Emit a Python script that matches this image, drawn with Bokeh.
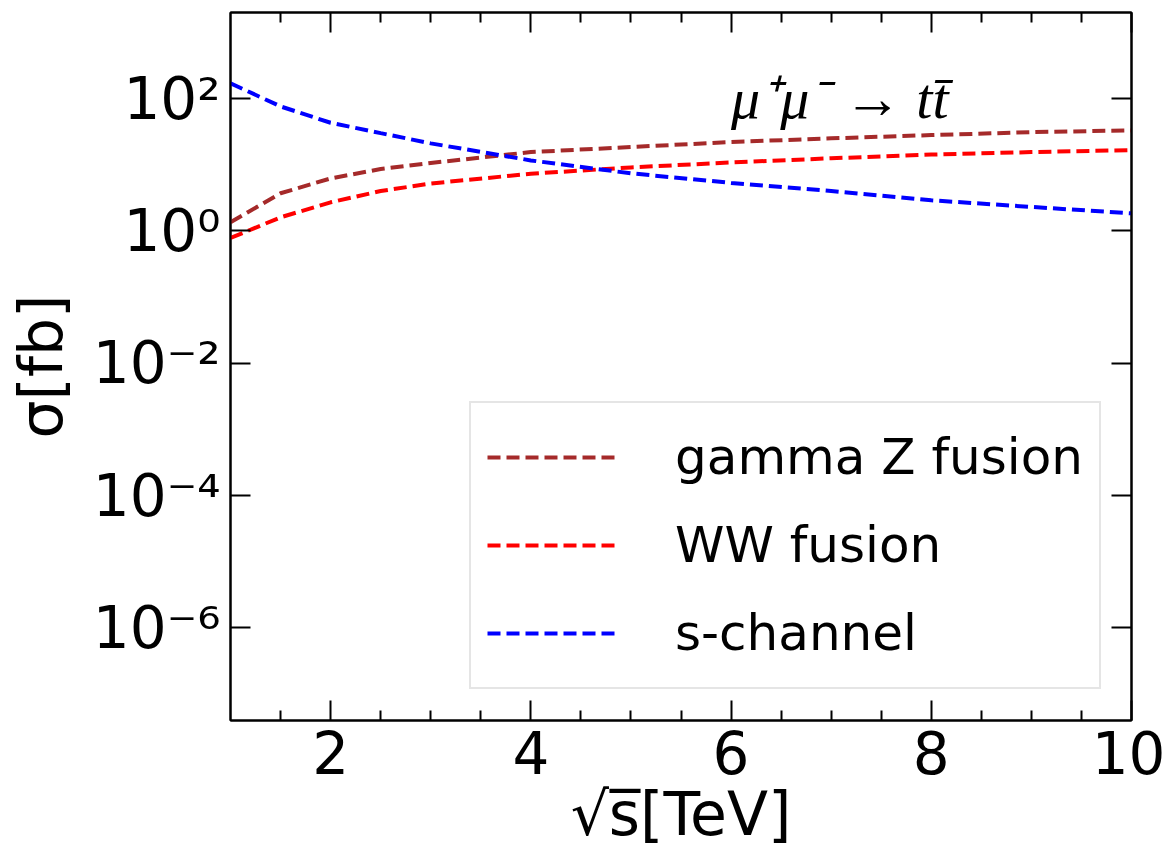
from bokeh.plotting import figure
from bokeh.models import (Range1d, LinearAxis, LogAxis, FixedTicker, CustomJSTickFormatter,
                          Legend, LegendItem, Label)
from bokeh.embed import file_html
from bokeh.resources import INLINE

# ---- data ----
sqrt_s = [1, 1.5, 2, 2.5, 3, 4, 5, 6, 7, 8, 9, 10]
gamma_z = [1.35, 3.7, 6.2, 8.6, 10.6, 15.5, 18.5, 22, 25, 28, 31, 33]
ww = [0.78, 1.6, 2.7, 4.0, 5.2, 7.3, 9.1, 10.8, 12.5, 14.2, 15.5, 16.6]
s_channel = [170, 76, 43, 30, 21, 11.6, 7.4, 5.3, 4.0, 2.9, 2.3, 1.84]

series_names = ["gamma Z fusion", "WW fusion", "s-channel"]
series_colors = ["#a52a2a", "#ff0000", "#0000ff"]

x_major = [2, 4, 6, 8, 10]
x_minor = [1.5, 2.5, 3, 3.5, 4.5, 5, 5.5, 6.5, 7, 7.5, 8.5, 9, 9.5]
y_major = [1e-6, 1e-4, 1e-2, 1, 1e2]
y_labels = ["10\u207b\u2076", "10\u207b\u2074", "10\u207b\u00b2", "10\u2070", "10\u00b2"]

FONT = "DejaVu Sans"

p = figure(width=1165, height=851, y_axis_type="log",
           x_range=Range1d(1, 10), y_range=Range1d(10 ** -7.40, 10 ** 3.30),
           output_backend="svg", toolbar_location=None,
           min_border_left=230, min_border_right=34, min_border_top=12, min_border_bottom=130)
p.grid.visible = False
p.background_fill_color = "white"
p.border_fill_color = "white"
p.outline_line_color = "black"
p.outline_line_width = 2

renderers = []
for ys, c in zip([gamma_z, ww, s_channel], series_colors):
    r = p.line(sqrt_s, ys, line_color=c, line_width=4, line_dash="13 6")
    renderers.append(r)

xt = FixedTicker(ticks=x_major, minor_ticks=x_minor)
yt = FixedTicker(ticks=y_major, minor_ticks=[])
yfmt = CustomJSTickFormatter(args=dict(vals=y_major, labs=y_labels), code="""
const i = vals.findIndex(v => Math.abs(Math.log10(v) - Math.log10(tick)) < 1e-6);
return i >= 0 ? labs[i] : '';
""")
blank = CustomJSTickFormatter(code="return '';")

def style(ax):
    ax.major_tick_in = 20
    ax.major_tick_out = 0
    ax.minor_tick_in = 10
    ax.minor_tick_out = 0
    ax.major_tick_line_width = 2
    ax.minor_tick_line_width = 2
    ax.major_tick_line_color = "black"
    ax.minor_tick_line_color = "black"
    ax.axis_line_color = "black"
    ax.axis_line_width = 2
    ax.major_label_text_font = FONT
    ax.major_label_text_color = "black"
    ax.axis_label_text_font = FONT
    ax.axis_label_text_font_style = "normal"
    ax.axis_label_text_color = "black"

xa = p.xaxis[0]
xa.ticker = xt
style(xa)
xa.major_label_text_font_size = "58px"
xa.major_label_standoff = 10
xa.axis_label = "\u221as\u0305[TeV]"
xa.axis_label_text_font_size = "60px"
xa.axis_label_standoff = 2

ya = p.yaxis[0]
ya.ticker = yt
ya.formatter = yfmt
style(ya)
ya.major_label_text_font_size = "58px"
ya.major_label_standoff = 10
ya.axis_label = "\u03c3[fb]"
ya.axis_label_text_font_size = "60px"
ya.axis_label_standoff = 14

top = LinearAxis(ticker=FixedTicker(ticks=x_major, minor_ticks=x_minor), formatter=blank)
style(top)
top.major_label_standoff = 0
p.add_layout(top, "above")
right = LogAxis(ticker=FixedTicker(ticks=y_major, minor_ticks=[]), formatter=blank)
style(right)
right.major_label_standoff = 0
p.add_layout(right, "right")

legend = Legend(items=[LegendItem(label=n, renderers=[r]) for n, r in zip(series_names, renderers)],
                location=(239, 31))
legend.label_text_font = FONT
legend.label_text_font_size = "50px"
legend.label_text_color = "black"
legend.glyph_width = 130
legend.glyph_height = 76
legend.label_height = 76
legend.label_standoff = 58
legend.spacing = 12
legend.padding = 16
legend.margin = 0
legend.border_line_color = "#cccccc"
legend.border_line_width = 2
legend.background_fill_color = "white"
legend.background_fill_alpha = 0.8
p.add_layout(legend, "center")

title = Label(x=6.0, y=100, text="\u03bc\u207a\u03bc\u207b \u2192 tt\u0304",
              text_font="Liberation Serif", text_font_style="italic",
              text_font_size="58px", text_color="black", text_baseline="alphabetic")
p.add_layout(title)

open("out.html", "w").write(file_html(p, INLINE))
